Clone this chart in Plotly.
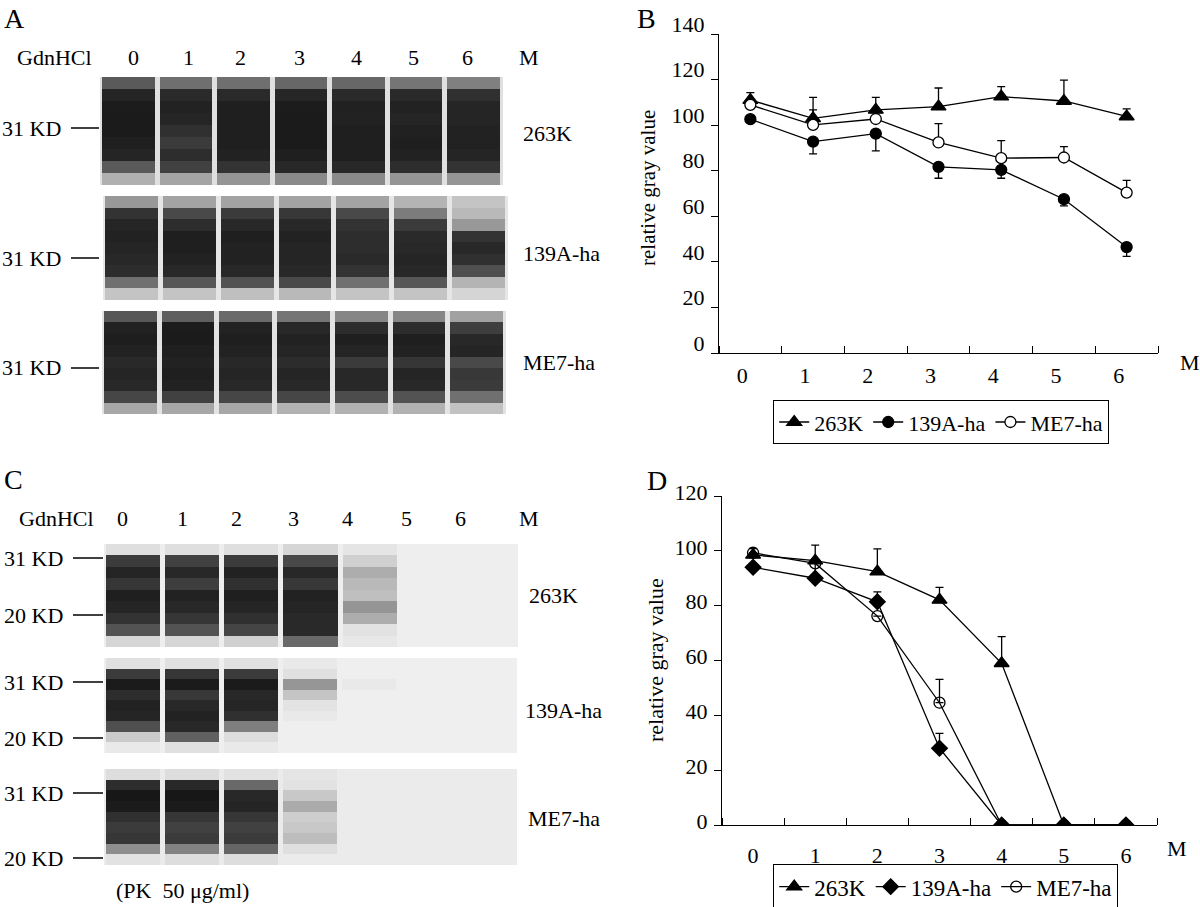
import plotly.graph_objects as go

W, H = 1200, 907
FONT = "Liberation Serif"

# ---------------- data ----------------
conc = [0, 1, 2, 3, 4, 5, 6]
conc_labels = ["0", "1", "2", "3", "4", "5", "6"]
strains = ["263K", "139A-ha", "ME7-ha"]

# Panel B (no PK)
b_yticks = [0, 20, 40, 60, 80, 100, 120, 140]
b_263k = [111.0, 103.0, 106.7, 108.1, 112.5, 110.6, 103.8]
b_263k_err = [3.3, 9.2, 5.5, 8.2, 4.4, 9.2, 3.3]
b_139a = [102.6, 92.8, 96.3, 81.7, 80.4, 67.5, 46.5]
b_139a_err = [0.0, 5.4, 7.6, 5.0, 3.7, 2.9, 4.1]
b_me7 = [108.9, 100.1, 102.7, 92.4, 85.5, 85.8, 70.4]
b_me7_err = [0.0, 6.6, 0.0, 8.3, 7.7, 4.8, 5.4]

# Panel D (PK 50 ug/ml)
d_yticks = [0, 20, 40, 60, 80, 100, 120]
d_263k = [98.5, 96.4, 92.4, 82.1, 59.0, 0.0, 0.0]
d_263k_err = [2.4, 5.7, 8.3, 4.6, 9.7, 0.0, 0.0]
d_139a = [94.0, 90.0, 81.4, 28.0, 0.0, 0.0, 0.0]
d_139a_err = [0.0, 5.4, 3.6, 5.4, 0.0, 0.0, 0.0]
d_me7 = [99.3, 95.4, 76.2, 44.6, 0.0, 0.0, 0.0]
d_me7_err = [1.5, 0.0, 0.0, 8.5, 0.0, 0.0, 0.0]

# Blot band darkness (rows top->bottom, columns = lanes 0..6 M GdnHCl)
blot_a_263k = [
    [0.50, 0.42, 0.42, 0.45, 0.45, 0.40, 0.36],
    [0.88, 0.84, 0.84, 0.87, 0.84, 0.84, 0.80],
    [0.94, 0.90, 0.92, 0.94, 0.91, 0.90, 0.88],
    [0.95, 0.88, 0.92, 0.95, 0.90, 0.88, 0.88],
    [0.95, 0.80, 0.92, 0.95, 0.92, 0.91, 0.90],
    [0.92, 0.72, 0.92, 0.95, 0.92, 0.92, 0.91],
    [0.88, 0.82, 0.90, 0.92, 0.92, 0.90, 0.88],
    [0.50, 0.68, 0.78, 0.86, 0.86, 0.82, 0.78],
    [0.18, 0.22, 0.28, 0.32, 0.32, 0.28, 0.28],
]
blot_a_139a = [
    [0.28, 0.24, 0.24, 0.24, 0.24, 0.18, 0.12],
    [0.78, 0.62, 0.72, 0.74, 0.62, 0.38, 0.16],
    [0.88, 0.82, 0.86, 0.86, 0.78, 0.72, 0.28],
    [0.90, 0.92, 0.92, 0.90, 0.82, 0.84, 0.78],
    [0.88, 0.92, 0.90, 0.88, 0.82, 0.86, 0.86],
    [0.86, 0.90, 0.90, 0.88, 0.84, 0.88, 0.80],
    [0.82, 0.86, 0.86, 0.86, 0.78, 0.86, 0.58],
    [0.42, 0.52, 0.56, 0.62, 0.42, 0.52, 0.18],
    [0.12, 0.12, 0.14, 0.16, 0.12, 0.12, 0.06],
]
blot_a_me7 = [
    [0.52, 0.48, 0.44, 0.40, 0.34, 0.34, 0.24],
    [0.91, 0.94, 0.90, 0.86, 0.82, 0.82, 0.70],
    [0.93, 0.95, 0.92, 0.90, 0.92, 0.92, 0.86],
    [0.90, 0.92, 0.90, 0.88, 0.88, 0.90, 0.88],
    [0.85, 0.90, 0.86, 0.83, 0.72, 0.76, 0.62],
    [0.88, 0.92, 0.88, 0.88, 0.86, 0.88, 0.74],
    [0.86, 0.90, 0.86, 0.86, 0.86, 0.86, 0.72],
    [0.64, 0.68, 0.64, 0.64, 0.60, 0.55, 0.42],
    [0.22, 0.22, 0.22, 0.18, 0.18, 0.18, 0.12],
]
blot_c_263k = [
    [0.05, 0.05, 0.05, 0.08, 0.03, 0.00, 0.00],
    [0.72, 0.68, 0.72, 0.62, 0.10, 0.00, 0.00],
    [0.88, 0.86, 0.90, 0.86, 0.22, 0.00, 0.00],
    [0.76, 0.70, 0.80, 0.74, 0.18, 0.00, 0.00],
    [0.92, 0.90, 0.92, 0.90, 0.16, 0.00, 0.00],
    [0.88, 0.86, 0.88, 0.88, 0.30, 0.00, 0.00],
    [0.78, 0.76, 0.80, 0.85, 0.22, 0.00, 0.00],
    [0.55, 0.55, 0.65, 0.85, 0.04, 0.00, 0.00],
    [0.08, 0.08, 0.10, 0.45, 0.02, 0.00, 0.00],
]
blot_c_139a = [
    [0.05, 0.05, 0.05, 0.02, 0.00, 0.00, 0.00],
    [0.72, 0.76, 0.72, 0.05, 0.00, 0.00, 0.00],
    [0.95, 0.95, 0.95, 0.30, 0.02, 0.00, 0.00],
    [0.82, 0.74, 0.86, 0.14, 0.00, 0.00, 0.00],
    [0.90, 0.86, 0.88, 0.04, 0.00, 0.00, 0.00],
    [0.88, 0.90, 0.80, 0.02, 0.00, 0.00, 0.00],
    [0.58, 0.86, 0.38, 0.00, 0.00, 0.00, 0.00],
    [0.12, 0.48, 0.06, 0.00, 0.00, 0.00, 0.00],
    [0.02, 0.05, 0.02, 0.00, 0.00, 0.00, 0.00],
]
blot_c_me7 = [
    [0.05, 0.05, 0.03, 0.02, 0.00, 0.00, 0.00],
    [0.82, 0.86, 0.45, 0.03, 0.00, 0.00, 0.00],
    [0.98, 0.98, 0.86, 0.12, 0.00, 0.00, 0.00],
    [0.95, 0.95, 0.88, 0.22, 0.00, 0.00, 0.00],
    [0.80, 0.76, 0.76, 0.10, 0.00, 0.00, 0.00],
    [0.72, 0.68, 0.68, 0.12, 0.00, 0.00, 0.00],
    [0.76, 0.72, 0.72, 0.16, 0.00, 0.00, 0.00],
    [0.32, 0.36, 0.46, 0.04, 0.00, 0.00, 0.00],
    [0.03, 0.05, 0.05, 0.00, 0.00, 0.00, 0.00],
]


# ---------------- helpers ----------------
def fx(px):
    return px / W


def fy(py):
    return 1 - py / H


def txt(size):
    return dict(family=FONT, size=size, color="black")


fig = go.Figure()
zeros = [0] * len(conc)


def series(xa, ya, leg, name, y, err, symbol, size, fill, up=True):
    fig.add_trace(go.Scatter(
        x=conc, y=y, name=name, mode="lines+markers",
        xaxis=xa, yaxis=ya, legend=leg,
        line=dict(color="black", width=1.3),
        marker=dict(symbol=symbol, size=size, color=fill,
                    line=dict(color="black", width=1.3)),
        error_y=dict(type="data", symmetric=False,
                     array=err if up else zeros,
                     arrayminus=zeros if up else err,
                     color="black", thickness=1.3, width=4),
        hoverinfo="skip",
    ))


# Panel B
series("x", "y", "legend", strains[0], b_263k, b_263k_err, "triangle-up", 13, "black")
series("x", "y", "legend", strains[1], b_139a, b_139a_err, "circle", 11, "black", up=False)
series("x", "y", "legend", strains[2], b_me7, b_me7_err, "circle", 11, "white")
# Panel D
series("x2", "y2", "legend2", strains[0], d_263k, d_263k_err, "triangle-up", 13, "black")
series("x2", "y2", "legend2", strains[1], d_139a, d_139a_err, "diamond", 12, "black")
series("x2", "y2", "legend2", strains[2], d_me7, d_me7_err, "circle-open", 11, "black")

# Blots
blots = [
    (blot_a_263k, (100, 503), (77, 185), "#e0e0e0"),
    (blot_a_139a, (103, 508), (196, 300), "#e6e6e6"),
    (blot_a_me7, (102, 506), (311, 414), "#e3e3e3"),
    (blot_c_263k, (104, 518), (544, 647), "#eeeeee"),
    (blot_c_139a, (104, 517), (658, 753), "#efefef"),
    (blot_c_me7, (104, 517), (769, 865), "#ebebeb"),
]
shapes = []
axis_layout = {}
for i, (z, (x0, x1), (y0, y1), bg) in enumerate(blots):
    n = i + 3
    fig.add_trace(go.Heatmap(
        z=z, x=conc, xaxis=f"x{n}", yaxis=f"y{n}",
        colorscale=[[0, bg], [0.5, "#5a5a5a"], [1, "#141414"]],
        zmin=0, zmax=1, showscale=False, xgap=5, hoverinfo="skip",
    ))
    axis_layout[f"xaxis{n}"] = dict(domain=[fx(x0), fx(x1)], anchor=f"y{n}",
                                    range=[-0.5, 6.5], visible=False, fixedrange=True)
    axis_layout[f"yaxis{n}"] = dict(domain=[fy(y1), fy(y0)], anchor=f"x{n}",
                                    range=[len(z) - 0.5, -0.5], visible=False, fixedrange=True)
    shapes.append(dict(type="rect", xref=f"x{n} domain", yref=f"y{n} domain",
                       x0=0, x1=1, y0=0, y1=1, fillcolor=bg, line_width=0, layer="below"))

# ---------------- axes for the line charts ----------------
minor_vals = [c - 0.5 for c in conc] + [conc[-1] + 0.5]


def xaxis(domain, anchor, shift, standoff, size):
    return dict(domain=domain, anchor=anchor, range=[-0.5, 6.5],
                showline=True, linecolor="black", linewidth=1.3,
                showgrid=False, zeroline=False, automargin=False,
                tickmode="array", tickvals=conc, ticktext=conc_labels, ticks="",
                ticklabelshift=shift, ticklabelstandoff=standoff,
                tickfont=txt(size),
                minor=dict(tickmode="array", tickvals=minor_vals, ticks="inside",
                           ticklen=7, tickwidth=1.3, tickcolor="black", showgrid=False),
                fixedrange=True)


def yaxis(domain, anchor, rng, vals, shift, size):
    return dict(domain=domain, anchor=anchor, range=rng,
                showline=True, linecolor="black", linewidth=1.3,
                showgrid=False, zeroline=False, automargin=False,
                tickmode="array", tickvals=vals, ticks="outside",
                ticklen=7, tickwidth=1.3, tickcolor="black",
                ticklabelshift=shift, ticklabelstandoff=2,
                tickfont=txt(size), fixedrange=True)


layout_axes = dict(
    xaxis=xaxis([fx(719), fx(1158)], "y", -8, 2, 22),
    yaxis=yaxis([fy(353), fy(34)], "x", [0, 140], b_yticks, -10, 22),
    xaxis2=xaxis([fx(722), fx(1157)], "y2", 0, 10, 22),
    yaxis2=yaxis([fy(825), fy(496)], "x2", [0, 120], d_yticks, -4, 22),
)
layout_axes.update(axis_layout)

# ---------------- text ----------------
annotations = []


def ann(text, x, y, size, xanchor="center", angle=0):
    annotations.append(dict(text=text, x=fx(x), y=fy(y), xref="paper", yref="paper",
                            xanchor=xanchor, yanchor="middle", showarrow=False,
                            font=txt(size), textangle=angle))


# panel letters
ann("A", 14, 18, 28)
ann("B", 646, 18, 28)
ann("C", 13, 479, 28)
ann("D", 657, 480, 28)

# panel A labels
ann("GdnHCl", 15, 58, 22, "left")
for lab, x in zip(conc_labels, [133, 188, 240, 299, 356, 414, 467]):
    ann(lab, x, 58, 22)
ann("M", 529, 58, 22)
for y in [128, 258, 368]:
    ann("31 KD", 63, y, 22, "right")
    shapes.append(dict(type="line", xref="paper", yref="paper",
                       x0=fx(71), x1=fx(99), y0=fy(y), y1=fy(y),
                       line=dict(color="black", width=1.5)))
ann("263K", 521, 133, 22, "left")
ann("139A-ha", 521, 253, 22, "left")
ann("ME7-ha", 521, 362, 22, "left")

# panel C labels
ann("GdnHCl", 17, 518, 22, "left")
for lab, x in zip(conc_labels, [123, 182, 236, 293, 347, 406, 460]):
    ann(lab, x, 518, 22)
ann("M", 529, 518, 22)
for lab, y in [("31 KD", 558), ("20 KD", 615), ("31 KD", 682),
               ("20 KD", 738), ("31 KD", 793), ("20 KD", 858)]:
    ann(lab, 65, y, 22, "right")
    shapes.append(dict(type="line", xref="paper", yref="paper",
                       x0=fx(73), x1=fx(103), y0=fy(y), y1=fy(y),
                       line=dict(color="black", width=1.5)))
ann("263K", 527, 595, 22, "left")
ann("139A-ha", 523, 710, 22, "left")
ann("ME7-ha", 526, 818, 22, "left")
ann("(PK\u00a0\u00a050 μg/ml)", 114, 890, 22, "left")

# chart labels
ann("relative gray value", 648, 188, 21, angle=-90)
ann("M", 1190, 363, 22)
ann("relative gray value", 655, 660, 22, angle=-90)
ann("M", 1177, 848, 22)


def legend(x, y, size):
    return dict(x=fx(x), y=fy(y), xref="paper", yref="paper",
                xanchor="left", yanchor="top", orientation="h",
                bgcolor="white", bordercolor="black", borderwidth=1.2,
                font=txt(size), itemclick=False, itemdoubleclick=False,
                tracegroupgap=0)


fig.update_layout(
    width=W, height=H,
    margin=dict(l=0, r=0, t=0, b=0, pad=0, autoexpand=False),
    paper_bgcolor="white", plot_bgcolor="white",
    showlegend=True,
    legend=legend(773, 400, 22),
    legend2=legend(773, 864, 23),
    annotations=annotations, shapes=shapes,
    **layout_axes,
)

fig.write_html(
    "out.html",
    config={"displayModeBar": False},
    post_script="document.body.style.margin='0px';document.body.style.overflow='hidden';",
)
